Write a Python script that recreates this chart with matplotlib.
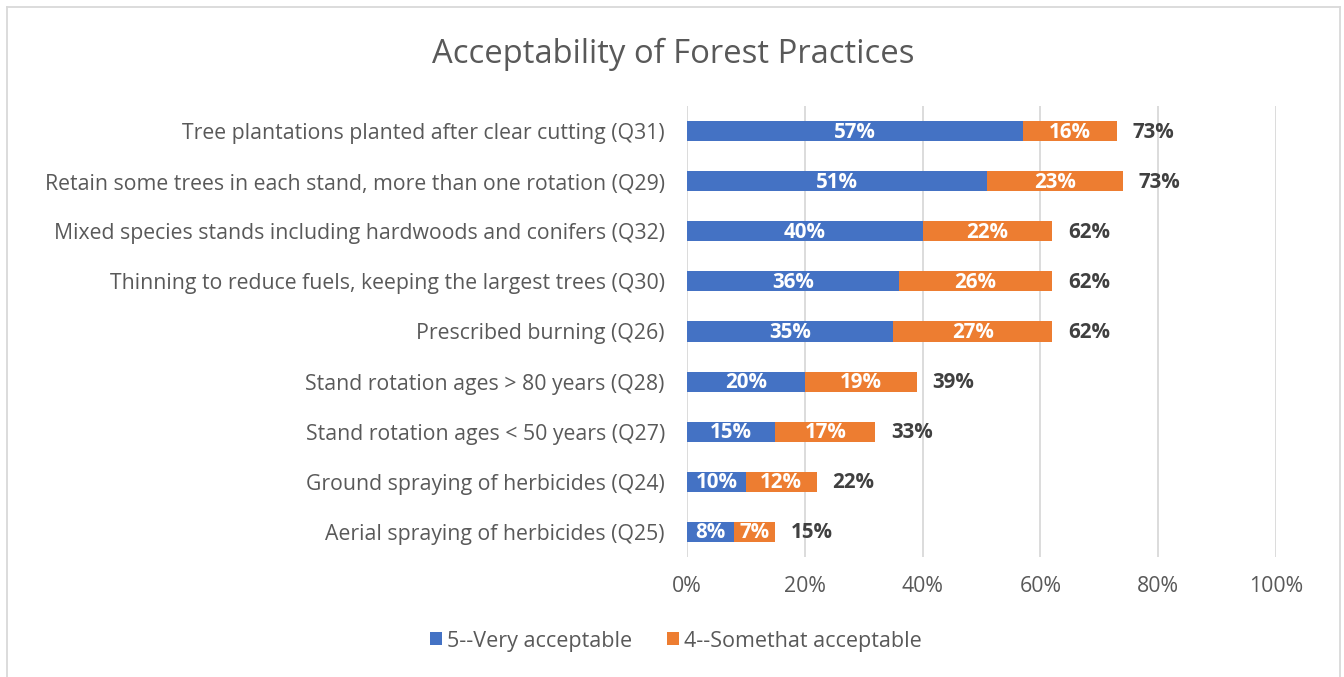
import matplotlib
matplotlib.use("Agg")
import matplotlib.pyplot as plt
import numpy as np

categories = [
    "Tree plantations planted after clear cutting (Q31)",
    "Retain some trees in each stand, more than one rotation (Q29)",
    "Mixed species stands including hardwoods and conifers (Q32)",
    "Thinning to reduce fuels, keeping the largest trees (Q30)",
    "Prescribed burning (Q26)",
    "Stand rotation ages > 80 years (Q28)",
    "Stand rotation ages < 50 years (Q27)",
    "Ground spraying of herbicides (Q24)",
    "Aerial spraying of herbicides (Q25)",
]
very_acceptable = [57, 51, 40, 36, 35, 20, 15, 10, 8]
somewhat_acceptable = [16, 23, 22, 26, 27, 19, 17, 12, 7]
total_labels = ["73%", "73%", "62%", "62%", "62%", "39%", "33%", "22%", "15%"]
series_names = ["5--Very acceptable", "4--Somethat acceptable"]
xticks = [0, 20, 40, 60, 80, 100]

FONT = "Open Sans"
TXT = "#595959"
plt.rcParams["font.family"] = [FONT, "DejaVu Sans"]

fig = plt.figure(figsize=(13.44, 6.77), dpi=100)
W, H = 1344, 677
ax = fig.add_axes([687 / W, (H - 557) / H, (1276 - 687) / W, (557 - 106) / H])

y = np.arange(len(categories))
blue, orange = "#4472C4", "#ED7D31"
b1 = ax.barh(y, very_acceptable, height=0.4, color=blue, label=series_names[0], zorder=3)
b2 = ax.barh(y, somewhat_acceptable, left=very_acceptable, height=0.4, color=orange,
             label=series_names[1], zorder=3)

for i in range(len(categories)):
    v, s = very_acceptable[i], somewhat_acceptable[i]
    ax.text(v / 2, y[i] + 0.02, f"{round(v)}%", ha="center", va="center", color="white",
            fontsize=14.8, fontweight="bold", zorder=4)
    ax.text(v + s / 2, y[i] + 0.02, f"{round(s)}%", ha="center", va="center", color="white",
            fontsize=14.8, fontweight="bold", zorder=4)
    ax.text(v + s + 2.7, y[i] + 0.02, total_labels[i], ha="left", va="center", color="#404040",
            fontsize=14.8, fontweight="bold", zorder=4)

ax.set_xlim(0, 100)
ax.set_ylim(len(categories) - 0.5, -0.5)
ax.set_xticks(xticks)
ax.set_xticklabels([f"{t}%" for t in xticks], color=TXT, fontsize=15.3)
ax.set_yticks(y)
ax.set_yticklabels(categories, color=TXT, fontsize=15.3)
ax.tick_params(axis="both", length=0)
ax.tick_params(axis="x", pad=14)
ax.tick_params(axis="y", pad=16)
ax.grid(axis="x", color="#D9D9D9", linewidth=1.3, zorder=0)
for sp in ax.spines.values():
    sp.set_visible(False)

fig.text(673 / W, 1 - 54 / H, "Acceptability of Forest Practices", ha="center", va="center",
         fontsize=23.6, color=TXT)

leg = fig.legend(handles=[b1, b2], labels=series_names, loc="center",
                 bbox_to_anchor=(676 / W, 1 - 641 / H), ncol=2, frameon=False,
                 fontsize=15.5, handlelength=0.55, handleheight=0.55, columnspacing=1.6,
                 handletextpad=0.25)
for t in leg.get_texts():
    t.set_color(TXT)

# outer chart border
from matplotlib.lines import Line2D
bc = "#D9D9D9"
fig.add_artist(Line2D([7 / W, 7 / W], [0, 1 - 7 / H], color=bc, lw=1.3, transform=fig.transFigure))
fig.add_artist(Line2D([7 / W, 1340 / W], [1 - 7 / H, 1 - 7 / H], color=bc, lw=1.3, transform=fig.transFigure))
fig.add_artist(Line2D([1340 / W, 1340 / W], [0, 1 - 7 / H], color=bc, lw=1.3, transform=fig.transFigure))

fig.savefig("out.png", dpi=100, facecolor="white")
